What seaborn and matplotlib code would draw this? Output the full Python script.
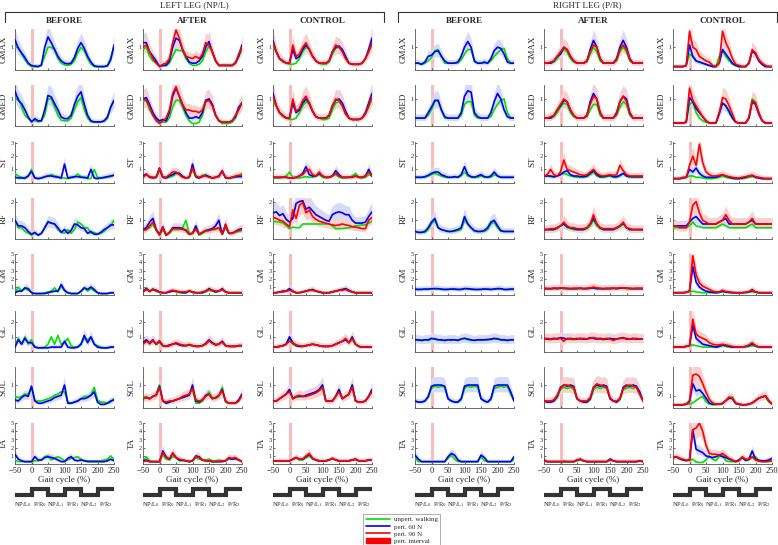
import numpy as np
import pandas as pd
import seaborn as sns
import matplotlib.pyplot as plt
from matplotlib.lines import Line2D
from matplotlib.patches import Patch

# gait cycle sampling (%), one value every 10 %
gait = np.arange(-50, 251, 10)

muscles = ['GMAX', 'GMED', 'ST', 'RF', 'GM', 'GL', 'SOL', 'TA']
col_keys = ['lb', 'la', 'lc', 'rb', 'ra', 'rc']
col_titles = ['BEFORE', 'AFTER', 'CONTROL', 'BEFORE', 'AFTER', 'CONTROL']
leg_titles = ['LEFT LEG (NP/L)', 'RIGHT LEG (P/R)']

ytop = {'GMAX': 1.8, 'GMED': 1.5, 'ST': 3.1, 'RF': 2.2, 'GM': 5, 'GL': 2.8, 'SOL': 1.8, 'TA': 5}
yticks = {'GMAX': [1], 'GMED': [1], 'ST': [1, 2, 3], 'RF': [1, 2], 'GM': [1, 2, 3, 4, 5],
          'GL': [1, 2], 'SOL': [1], 'TA': [1, 2, 3, 4, 5]}

phase_edges = [-50, 0, 50, 100, 150, 200, 250]
phase_levels = [0, 1, 0, 1, 0, 1]
phase_labels = [r'NP/L$_0$', r'P/R$_0$', r'NP/L$_1$', r'P/R$_1$', r'NP/L$_2$', r'P/R$_2$']
pert_interval = [-1, 9]

# ---- LEFT LEG, BEFORE (g = unperturbed, b = 60 N)
lb_gmax_g = [1.0,1.0,0.7,0.45,0.25,0.15,0.15,0.15,0.2,0.6,1.0,1.0,0.9,0.5,0.3,0.22,0.2,0.25,0.4,0.75,1.0,0.85,0.5,0.25,0.15,0.15,0.15,0.15,0.2,0.55,1.0]
lb_gmax_b = [1.33,0.95,0.75,0.55,0.3,0.2,0.17,0.15,0.22,1.0,1.45,1.2,0.9,0.6,0.4,0.3,0.27,0.3,0.55,0.95,1.2,0.95,0.6,0.35,0.18,0.15,0.15,0.15,0.18,0.45,1.1]
lb_gmed_g = [0.95,1.05,0.7,0.4,0.28,0.2,0.2,0.16,0.2,0.4,1.0,1.0,0.7,0.4,0.22,0.2,0.2,0.3,0.6,0.9,1.05,0.6,0.3,0.16,0.16,0.16,0.16,0.18,0.28,0.7,0.95]
lb_gmed_b = [1.29,0.95,0.83,0.6,0.34,0.16,0.28,0.2,0.2,0.6,1.13,1.07,0.83,0.6,0.34,0.28,0.28,0.4,0.8,1.1,1.26,0.8,0.4,0.2,0.16,0.16,0.16,0.2,0.34,0.7,0.95]
lb_st_g = [0.7,0.5,0.4,0.3,0.5,1.0,0.35,0.3,0.35,0.4,0.5,0.6,0.5,0.45,0.35,0.35,0.3,0.35,0.4,0.65,0.45,0.35,0.3,0.3,1.0,0.4,0.35,0.35,0.4,0.45,0.6]
lb_st_b = [0.4,0.35,0.35,0.35,0.5,0.85,0.35,0.3,0.35,0.45,0.5,0.5,0.45,0.4,0.35,1.4,0.35,0.4,0.45,0.45,0.4,0.4,0.35,1.0,0.35,0.3,0.35,0.4,0.45,0.5,0.55]
lb_rf_g = [1.0,0.6,0.6,0.4,0.3,0.2,0.3,0.2,0.3,0.6,0.95,0.85,0.8,0.5,0.35,0.3,0.5,0.3,0.5,0.9,0.8,0.6,0.6,0.3,0.35,0.25,0.3,0.4,0.6,0.7,1.0]
lb_rf_b = [1.0,0.7,0.7,0.6,0.4,0.25,0.35,0.2,0.3,0.6,0.9,0.85,0.8,0.6,0.35,0.5,0.3,0.45,0.8,0.75,0.6,0.55,0.3,0.4,0.25,0.25,0.35,0.5,0.6,0.75,0.75]
lb_gm_g = [0.3,1.0,0.5,0.8,0.6,0.35,0.2,0.2,0.2,0.3,0.4,0.5,0.9,0.4,1.1,0.5,0.3,0.2,0.2,0.2,0.4,0.9,0.5,0.8,0.5,0.3,0.2,0.2,0.2,0.3,0.3]
lb_gm_b = [0.3,0.5,0.5,0.9,0.8,0.3,0.2,0.2,0.2,0.2,0.3,0.4,0.5,0.5,1.3,0.6,0.3,0.2,0.2,0.2,0.5,0.9,0.7,1.0,0.7,0.3,0.2,0.2,0.2,0.3,0.3]
lb_gl_g = [0.4,0.9,0.5,1.0,0.5,0.8,0.3,0.25,0.25,0.3,0.5,1.0,0.5,1.1,0.5,0.6,0.9,0.4,0.3,0.3,0.5,0.9,0.8,1.0,0.5,0.4,0.3,0.25,0.25,0.3,0.3]
lb_gl_b = [0.3,0.8,0.5,0.9,0.6,0.6,0.3,0.25,0.25,0.25,0.25,0.3,0.3,0.3,0.3,0.7,0.3,0.25,0.25,0.3,0.5,1.1,0.6,1.0,0.5,0.3,0.25,0.25,0.25,0.3,0.3]
lb_sol_g = [0.5,0.45,0.5,0.6,0.6,0.9,0.3,0.3,0.3,0.35,0.4,0.45,0.55,0.6,0.7,0.7,0.25,0.2,0.25,0.3,0.4,0.5,0.5,0.55,0.9,0.35,0.25,0.25,0.2,0.25,0.4]
lb_sol_b = [0.35,0.3,0.45,0.55,0.5,0.95,0.3,0.2,0.2,0.25,0.3,0.35,0.45,0.5,0.55,1.0,0.2,0.2,0.25,0.3,0.4,0.4,0.45,0.55,0.7,0.25,0.15,0.15,0.2,0.3,0.35]
lb_ta_g = [0.5,0.3,0.3,0.3,0.3,0.3,0.4,0.4,0.5,0.9,1.0,0.5,0.7,0.9,0.7,0.4,0.5,0.7,0.8,0.9,0.6,0.4,0.4,0.4,0.4,0.4,0.4,0.5,0.6,1.0,0.6]
lb_ta_b = [1.2,0.6,0.4,0.3,0.3,0.3,0.9,0.5,0.5,0.8,0.9,0.8,0.7,0.5,0.3,0.3,0.7,0.9,0.5,0.4,0.5,0.4,0.3,0.3,0.3,0.3,0.3,0.3,0.4,0.6,0.4]

# ---- LEFT LEG, AFTER (r = 90 N)
la_gmax_g = [0.9,1.0,0.6,0.4,0.3,0.2,0.2,0.2,0.3,0.6,0.9,0.85,0.85,0.5,0.3,0.2,0.2,0.25,0.4,0.8,1.05,0.8,0.4,0.2,0.2,0.2,0.2,0.2,0.35,0.6,0.9]
la_gmax_b = [1.2,1.2,0.8,0.6,0.4,0.15,0.2,0.2,0.4,1.0,1.4,1.3,0.9,0.6,0.35,0.3,0.3,0.4,0.6,1.0,1.25,0.8,0.4,0.2,0.2,0.2,0.2,0.2,0.3,0.6,1.1]
la_gmax_r = [1.0,1.1,0.8,0.5,0.3,0.15,0.25,0.3,0.5,1.2,1.75,1.4,0.9,0.6,0.55,0.5,0.6,0.5,0.7,1.2,1.1,0.8,0.4,0.2,0.2,0.2,0.2,0.2,0.3,0.7,1.0]
la_gmed_g = [0.9,0.95,0.6,0.4,0.3,0.15,0.15,0.15,0.3,0.7,0.95,0.95,0.7,0.4,0.2,0.1,0.1,0.15,0.4,0.9,1.0,0.8,0.4,0.2,0.1,0.1,0.1,0.15,0.3,0.6,0.9]
la_gmed_b = [1.0,1.05,0.8,0.5,0.3,0.2,0.25,0.2,0.5,1.1,1.4,1.1,0.8,0.5,0.3,0.3,0.35,0.3,0.5,0.95,1.0,0.8,0.4,0.2,0.15,0.15,0.15,0.2,0.35,0.7,0.85]
la_gmed_r = [1.0,0.95,0.7,0.4,0.2,0.1,0.2,0.3,0.6,1.2,1.45,1.1,0.8,0.6,0.6,0.55,0.55,0.5,0.6,0.9,0.95,0.75,0.4,0.2,0.15,0.15,0.15,0.2,0.4,0.6,0.85]
la_st_g = [0.5,0.6,0.45,0.4,0.4,0.9,0.4,0.35,0.4,0.5,0.65,0.7,0.5,0.35,0.4,1.0,0.4,0.35,0.55,0.6,0.45,0.35,0.4,0.5,0.8,0.4,0.3,0.35,0.4,0.5,0.7]
la_st_b = [0.5,0.65,0.4,0.35,0.4,1.1,0.4,0.35,0.5,0.6,0.75,0.7,0.45,0.35,0.4,1.4,0.45,0.35,0.45,0.55,0.45,0.35,0.4,0.5,0.9,0.35,0.35,0.4,0.45,0.45,0.45]
la_st_r = [0.4,0.6,0.45,0.4,0.4,1.1,0.45,0.4,0.6,0.8,0.8,0.6,0.4,0.35,0.4,1.1,0.5,0.4,0.5,0.5,0.4,0.35,0.4,0.45,0.85,0.4,0.35,0.4,0.5,0.55,0.55]
la_rf_g = [0.45,0.5,0.6,0.8,0.45,0.2,0.5,0.2,0.3,0.5,0.5,0.5,0.6,1.0,0.3,0.3,0.5,0.2,0.3,0.4,0.45,0.5,0.5,0.6,0.25,0.6,0.3,0.3,0.35,0.4,0.45]
la_rf_b = [0.5,0.6,0.9,1.1,0.5,0.25,0.65,0.2,0.35,0.6,0.6,0.6,0.55,0.45,0.25,0.3,0.7,0.25,0.35,0.45,0.5,0.55,0.7,1.0,0.25,0.75,0.3,0.3,0.4,0.5,0.55]
la_rf_r = [0.45,0.5,0.7,0.9,0.5,0.2,0.6,0.2,0.35,0.55,0.55,0.55,0.5,0.5,0.25,0.3,0.55,0.25,0.35,0.45,0.45,0.5,0.55,0.6,0.25,0.8,0.3,0.3,0.4,0.45,0.5]
la_gm_g = [0.4,0.9,0.4,0.8,0.5,0.3,0.3,0.3,0.4,0.6,0.4,0.3,0.3,0.3,0.6,0.3,0.3,0.3,0.3,0.4,0.6,0.5,0.4,0.5,0.7,0.4,0.3,0.3,0.3,0.3,0.3]
la_gm_b = [0.4,0.8,0.5,0.7,0.6,0.4,0.3,0.3,0.4,0.5,0.5,0.4,0.3,0.3,0.5,0.4,0.3,0.3,0.3,0.5,0.8,0.6,0.4,0.5,0.8,0.4,0.3,0.3,0.3,0.3,0.3]
la_gm_r = [0.4,0.7,0.5,0.7,0.5,0.4,0.3,0.3,0.5,0.6,0.5,0.4,0.4,0.4,0.5,0.4,0.3,0.3,0.4,0.5,0.7,0.6,0.5,0.5,0.7,0.4,0.3,0.3,0.3,0.3,0.3]
la_gl_g = [0.5,0.8,0.5,0.7,0.5,0.6,0.4,0.35,0.4,0.5,0.6,0.5,0.4,0.4,0.5,0.4,0.4,0.35,0.4,0.5,0.7,0.6,0.5,0.5,0.7,0.4,0.35,0.35,0.35,0.4,0.4]
la_gl_b = [0.6,0.8,0.6,0.8,0.5,0.7,0.4,0.35,0.45,0.5,0.55,0.45,0.4,0.4,0.45,0.4,0.35,0.35,0.4,0.55,0.8,0.6,0.45,0.5,0.7,0.4,0.35,0.35,0.35,0.4,0.4]
la_gl_r = [0.5,0.7,0.55,0.75,0.5,0.75,0.4,0.35,0.4,0.5,0.6,0.5,0.45,0.4,0.45,0.4,0.35,0.35,0.4,0.5,0.75,0.55,0.45,0.5,0.65,0.4,0.35,0.35,0.35,0.4,0.4]
la_sol_g = [0.45,0.5,0.4,0.5,0.6,1.0,0.3,0.2,0.25,0.3,0.35,0.4,0.45,0.5,0.6,0.8,0.2,0.2,0.3,0.5,0.7,0.45,0.4,0.5,0.9,0.25,0.2,0.2,0.2,0.3,0.55]
la_sol_b = [0.4,0.45,0.4,0.5,0.55,0.95,0.3,0.2,0.25,0.3,0.35,0.4,0.45,0.5,0.55,1.0,0.3,0.25,0.35,0.55,0.6,0.4,0.45,0.55,0.8,0.3,0.2,0.2,0.2,0.35,0.6]
la_sol_r = [0.4,0.45,0.4,0.5,0.55,0.9,0.3,0.25,0.3,0.3,0.35,0.4,0.5,0.55,0.6,0.85,0.35,0.3,0.35,0.5,0.6,0.4,0.45,0.55,0.75,0.3,0.2,0.2,0.2,0.3,0.55]
la_ta_g = [0.3,0.9,0.4,0.3,0.3,0.3,1.1,0.6,0.5,0.9,0.8,0.4,0.4,0.4,0.3,0.4,0.8,0.6,0.5,0.5,0.6,0.4,0.4,0.5,0.4,0.4,0.7,0.6,0.6,0.5,0.3]
la_ta_b = [0.4,0.5,0.3,0.3,0.3,0.3,1.6,0.9,0.6,1.3,0.8,0.5,0.5,0.4,0.3,0.4,1.0,0.9,0.5,0.4,0.4,0.3,0.3,0.3,0.3,0.4,0.7,0.6,0.7,0.5,0.3]
la_ta_r = [0.3,0.4,0.3,0.3,0.3,0.3,1.4,0.8,0.6,1.4,0.8,0.6,0.5,0.4,0.3,0.4,0.9,0.8,0.5,0.4,0.4,0.3,0.3,0.3,0.4,0.4,0.8,0.7,0.8,0.5,0.3]

# ---- LEFT LEG, CONTROL
lc_gmax_g = [1.0,0.8,0.5,0.35,0.3,0.25,0.25,0.3,0.5,0.8,1.0,0.9,0.6,0.4,0.3,0.25,0.25,0.35,0.7,0.95,1.0,0.85,0.5,0.3,0.25,0.25,0.25,0.3,0.5,0.8,1.1]
lc_gmax_b = [1.3,0.8,0.5,0.4,0.3,0.3,0.9,0.5,0.6,0.9,1.1,0.9,0.6,0.4,0.3,0.3,0.3,0.4,0.8,1.0,1.05,0.9,0.6,0.3,0.25,0.25,0.25,0.3,0.5,0.9,1.4]
lc_gmax_r = [1.2,0.8,0.5,0.4,0.3,0.3,1.1,0.6,0.7,1.0,1.2,0.9,0.6,0.4,0.3,0.3,0.3,0.4,0.8,1.1,1.0,0.8,0.5,0.3,0.25,0.25,0.25,0.3,0.5,0.8,1.2]
lc_gmed_g = [0.9,0.75,0.5,0.35,0.3,0.25,0.25,0.3,0.5,0.75,0.9,0.8,0.55,0.35,0.3,0.25,0.25,0.3,0.6,0.85,0.9,0.75,0.45,0.3,0.25,0.25,0.25,0.3,0.45,0.7,1.0]
lc_gmed_b = [1.2,0.75,0.5,0.4,0.3,0.3,0.85,0.5,0.6,0.85,1.0,0.85,0.55,0.35,0.3,0.3,0.3,0.4,0.75,0.95,1.0,0.85,0.55,0.3,0.25,0.25,0.25,0.3,0.5,0.85,1.2]
lc_gmed_r = [1.1,0.75,0.5,0.4,0.3,0.3,1.0,0.55,0.65,0.95,1.1,0.85,0.55,0.35,0.3,0.3,0.3,0.4,0.75,1.0,0.95,0.75,0.45,0.3,0.25,0.25,0.25,0.3,0.45,0.75,1.1]
lc_st_g = [0.35,0.35,0.35,0.4,0.5,0.8,0.4,0.35,0.35,0.4,0.45,0.4,0.4,0.5,0.6,0.4,0.35,0.4,0.5,0.6,0.4,0.35,0.35,0.4,0.5,0.7,0.4,0.35,0.4,0.6,0.5]
lc_st_b = [0.4,0.4,0.4,0.4,0.4,0.35,0.35,0.4,0.5,0.7,1.2,0.6,0.5,0.5,0.7,0.5,0.4,0.4,0.5,0.9,0.6,0.4,0.4,0.4,0.4,0.5,0.4,0.4,0.5,1.0,0.5]
lc_st_r = [0.4,0.4,0.4,0.4,0.4,0.35,0.35,0.4,0.5,0.6,0.9,1.0,0.6,0.5,0.8,0.5,0.4,0.4,0.5,0.7,0.5,0.4,0.4,0.4,0.4,0.5,0.4,0.4,0.5,0.8,0.5]
lc_rf_g = [0.95,0.92,0.9,0.85,0.72,0.55,0.63,0.6,0.6,0.8,0.8,0.8,0.8,0.8,0.8,0.8,0.8,0.8,0.7,0.55,0.55,0.55,0.58,0.6,0.65,0.7,0.72,0.75,0.75,0.85,0.95]
lc_rf_b = [1.4,1.45,1.25,1.35,1.05,0.9,1.1,1.9,2.0,2.05,1.6,1.7,1.5,1.3,1.2,1.1,1.0,0.95,1.3,1.4,1.45,1.4,1.3,1.3,1.0,0.85,0.85,0.85,0.9,1.2,1.45]
lc_rf_r = [1.15,1.1,1.0,0.95,0.8,0.65,1.55,1.1,1.8,1.95,1.4,1.55,1.2,1.05,0.95,0.9,0.85,0.8,0.75,0.72,0.75,0.8,0.75,0.72,0.65,0.63,0.6,0.55,0.55,1.0,1.15]
lc_gm_g = [0.3,0.3,0.4,0.4,0.5,0.7,0.4,0.3,0.3,0.4,0.5,0.6,0.6,0.5,0.4,0.3,0.3,0.3,0.4,0.5,0.6,0.7,0.8,0.5,0.4,0.3,0.3,0.3,0.3,0.3,0.3]
lc_gm_b = [0.3,0.3,0.4,0.5,0.5,0.8,0.5,0.3,0.3,0.4,0.5,0.6,0.7,0.5,0.4,0.3,0.3,0.3,0.4,0.5,0.6,0.7,0.8,0.6,0.4,0.3,0.3,0.3,0.3,0.3,0.3]
lc_gm_r = [0.3,0.3,0.4,0.4,0.5,0.6,0.5,0.3,0.3,0.4,0.5,0.6,0.6,0.5,0.4,0.3,0.3,0.3,0.4,0.5,0.6,0.6,0.7,0.5,0.4,0.3,0.3,0.3,0.3,0.3,0.3]
lc_gl_g = [0.3,0.3,0.35,0.4,0.5,0.8,0.5,0.4,0.35,0.35,0.4,0.45,0.5,0.45,0.4,0.35,0.35,0.35,0.4,0.5,0.6,0.7,0.8,0.6,0.8,0.5,0.35,0.3,0.3,0.3,0.3]
lc_gl_b = [0.3,0.3,0.35,0.4,0.5,1.0,0.6,0.4,0.35,0.35,0.4,0.45,0.5,0.45,0.4,0.35,0.35,0.35,0.4,0.5,0.6,0.7,0.8,0.6,1.0,0.5,0.35,0.3,0.3,0.3,0.3]
lc_gl_r = [0.3,0.3,0.35,0.4,0.5,0.7,0.6,0.45,0.4,0.35,0.4,0.45,0.5,0.45,0.4,0.35,0.35,0.35,0.4,0.5,0.6,0.7,0.9,0.6,0.9,0.5,0.35,0.3,0.3,0.3,0.3]
lc_sol_g = [0.3,0.3,0.4,0.5,0.6,0.8,0.4,0.45,0.5,0.5,0.5,0.55,0.6,0.7,0.8,1.0,0.3,0.3,0.3,0.5,0.8,0.4,0.5,0.6,1.0,0.3,0.25,0.25,0.3,0.5,0.8]
lc_sol_b = [0.3,0.3,0.4,0.5,0.6,0.8,0.4,0.5,0.5,0.5,0.55,0.6,0.65,0.7,0.8,1.0,0.3,0.3,0.3,0.5,0.8,0.4,0.5,0.6,1.0,0.3,0.25,0.25,0.3,0.5,0.8]
lc_sol_r = [0.3,0.3,0.4,0.5,0.6,0.7,0.4,0.5,0.55,0.5,0.5,0.55,0.6,0.65,0.75,0.9,0.3,0.3,0.3,0.5,0.7,0.4,0.5,0.6,0.9,0.3,0.25,0.25,0.3,0.5,0.7]
lc_ta_g = [0.4,0.4,0.4,0.4,0.4,0.4,0.6,0.8,0.5,0.5,0.8,1.0,0.6,0.5,0.4,0.4,0.4,0.5,0.7,0.5,0.4,0.4,0.4,0.4,0.5,0.6,0.4,0.4,0.4,0.5,0.5]
lc_ta_b = [0.4,0.4,0.4,0.4,0.4,0.4,0.6,0.8,0.6,0.6,0.9,1.2,0.7,0.5,0.4,0.4,0.4,0.5,0.7,0.5,0.4,0.4,0.4,0.4,0.5,0.6,0.4,0.4,0.4,0.5,0.5]
lc_ta_r = [0.4,0.4,0.4,0.4,0.4,0.4,0.6,0.8,0.6,0.6,1.0,1.3,0.7,0.5,0.4,0.4,0.4,0.5,0.7,0.5,0.4,0.4,0.4,0.4,0.5,0.6,0.4,0.4,0.4,0.5,0.5]

# ---- RIGHT LEG, BEFORE
rb_gmax_g = [0.3,0.3,0.25,0.3,0.4,0.55,0.85,0.9,0.6,0.3,0.3,0.3,0.3,0.3,0.45,0.7,0.9,0.9,0.35,0.3,0.3,0.3,0.3,0.4,0.6,0.75,0.9,0.95,0.5,0.3,0.3]
rb_gmax_b = [0.3,0.3,0.25,0.35,0.6,0.65,0.8,0.85,0.6,0.4,0.3,0.3,0.3,0.35,0.6,1.0,1.25,1.0,0.4,0.3,0.3,0.35,0.3,0.5,0.85,1.0,0.95,0.7,0.35,0.3,0.3]
rb_gmed_g = [0.3,0.3,0.3,0.3,0.4,0.6,0.9,0.95,0.6,0.3,0.3,0.3,0.3,0.3,0.4,0.8,0.9,0.9,0.4,0.3,0.3,0.3,0.3,0.35,0.6,0.8,0.95,1.0,0.5,0.3,0.3]
rb_gmed_b = [0.3,0.3,0.3,0.3,0.5,0.7,0.95,0.95,0.6,0.35,0.3,0.3,0.3,0.3,0.5,1.1,1.3,1.25,0.5,0.35,0.3,0.3,0.3,0.5,0.9,1.2,1.0,0.6,0.35,0.3,0.3]
rb_st_g = [0.4,0.4,0.4,0.4,0.5,0.6,0.7,0.6,0.5,0.4,0.4,0.4,0.4,0.4,0.5,0.8,0.5,0.4,0.4,0.4,0.5,0.4,0.4,0.4,0.6,0.5,0.4,0.4,0.4,0.4,0.4]
rb_st_b = [0.4,0.4,0.4,0.45,0.55,0.7,0.8,0.8,0.6,0.5,0.4,0.4,0.45,0.4,0.6,1.2,0.6,0.45,0.4,0.5,0.6,0.45,0.4,0.5,0.8,0.5,0.4,0.4,0.4,0.4,0.4]
rb_rf_g = [0.4,0.35,0.35,0.35,0.5,0.8,1.0,0.6,0.5,0.45,0.4,0.4,0.4,0.45,0.5,1.0,0.8,0.6,0.4,0.4,0.4,0.4,0.5,0.8,0.9,0.6,0.4,0.4,0.4,0.4,0.4]
rb_rf_b = [0.4,0.35,0.35,0.4,0.6,0.9,1.1,0.6,0.5,0.45,0.4,0.4,0.45,0.5,0.6,1.2,0.8,0.6,0.45,0.4,0.4,0.45,0.6,0.9,1.0,0.7,0.45,0.4,0.4,0.4,0.4]
rb_gm_g = [0.7,0.7,0.75,0.7,0.7,0.75,0.8,0.75,0.7,0.7,0.75,0.75,0.7,0.7,0.75,0.8,0.75,0.7,0.7,0.7,0.75,0.75,0.7,0.7,0.75,0.8,0.75,0.7,0.7,0.7,0.7]
rb_gm_b = [0.75,0.7,0.7,0.75,0.75,0.8,0.8,0.8,0.75,0.7,0.7,0.75,0.75,0.7,0.7,0.8,0.8,0.75,0.7,0.7,0.7,0.75,0.75,0.7,0.75,0.8,0.8,0.7,0.7,0.75,0.75]
rb_gl_g = [0.8,0.75,0.8,0.8,0.75,0.85,0.9,0.8,0.75,0.8,0.8,0.75,0.8,0.8,0.85,0.9,0.8,0.75,0.8,0.8,0.75,0.8,0.85,0.8,0.85,0.9,0.8,0.75,0.8,0.8,0.8]
rb_gl_b = [0.8,0.8,0.75,0.8,0.8,0.9,0.85,0.8,0.8,0.75,0.8,0.8,0.8,0.75,0.85,0.9,0.85,0.8,0.75,0.8,0.8,0.8,0.8,0.85,0.9,0.85,0.8,0.8,0.75,0.8,0.8]
rb_sol_g = [0.3,0.25,0.25,0.3,0.45,0.85,0.95,0.9,0.95,0.9,0.4,0.3,0.25,0.25,0.35,0.85,0.95,0.9,0.95,0.9,0.4,0.3,0.25,0.35,0.85,0.9,0.95,0.9,0.95,0.6,0.3]
rb_sol_b = [0.3,0.25,0.25,0.3,0.5,0.95,1.0,1.0,1.0,0.95,0.4,0.3,0.25,0.25,0.4,0.95,1.0,1.0,1.0,1.0,0.4,0.3,0.25,0.4,0.95,1.0,1.0,1.0,1.0,0.7,0.3]
rb_ta_g = [0.8,0.3,0.3,0.3,0.3,0.3,0.3,0.3,0.3,0.3,0.7,1.1,0.6,0.3,0.3,0.3,0.3,0.3,0.3,0.3,0.9,0.4,0.3,0.3,0.3,0.3,0.3,0.3,0.3,0.3,0.5]
rb_ta_b = [1.1,0.6,0.3,0.3,0.3,0.3,0.3,0.3,0.3,0.3,0.9,1.3,1.1,0.5,0.3,0.3,0.3,0.3,0.3,0.3,1.1,0.8,0.3,0.3,0.3,0.3,0.3,0.3,0.3,0.3,0.9]

# ---- RIGHT LEG, AFTER
ra_gmax_g = [0.3,0.3,0.3,0.35,0.5,0.7,0.9,0.8,0.5,0.35,0.3,0.3,0.3,0.35,0.7,1.0,0.8,0.4,0.3,0.3,0.3,0.3,0.4,0.8,1.0,0.8,0.4,0.3,0.3,0.3,0.3]
ra_gmax_b = [0.3,0.3,0.3,0.4,0.6,0.7,1.0,0.9,0.6,0.4,0.3,0.3,0.3,0.4,0.9,1.3,1.0,0.5,0.3,0.3,0.3,0.3,0.5,1.0,1.3,1.0,0.5,0.3,0.3,0.3,0.3]
ra_gmax_r = [0.3,0.3,0.35,0.4,0.6,0.8,1.0,0.9,0.6,0.4,0.3,0.3,0.3,0.4,0.8,1.1,1.0,0.5,0.3,0.3,0.3,0.3,0.45,0.9,1.1,0.9,0.45,0.3,0.3,0.3,0.3]
ra_gmed_g = [0.3,0.3,0.3,0.35,0.5,0.7,0.85,0.8,0.5,0.35,0.3,0.3,0.3,0.35,0.6,0.8,0.8,0.4,0.3,0.3,0.3,0.3,0.4,0.7,0.9,0.8,0.4,0.3,0.3,0.3,0.3]
ra_gmed_b = [0.3,0.3,0.3,0.4,0.6,0.75,0.95,0.9,0.6,0.4,0.3,0.3,0.3,0.4,0.9,1.2,1.0,0.5,0.3,0.3,0.3,0.3,0.5,0.9,1.1,1.0,0.5,0.3,0.3,0.3,0.3]
ra_gmed_r = [0.3,0.3,0.35,0.4,0.6,0.8,1.0,0.9,0.6,0.4,0.3,0.3,0.3,0.4,0.8,1.1,1.0,0.5,0.3,0.3,0.3,0.3,0.45,0.9,1.1,0.9,0.45,0.3,0.3,0.3,0.3]
ra_st_g = [0.45,0.5,0.45,0.4,0.5,0.6,0.7,0.6,0.5,0.45,0.4,0.4,0.4,0.45,0.6,0.8,0.5,0.4,0.4,0.45,0.5,0.4,0.4,0.5,0.7,0.5,0.4,0.4,0.4,0.4,0.4]
ra_st_b = [0.5,0.5,0.5,0.45,0.5,0.6,0.8,0.9,0.6,0.5,0.5,0.45,0.45,0.5,0.7,0.9,0.6,0.45,0.45,0.5,0.55,0.45,0.45,0.55,0.7,0.5,0.45,0.45,0.45,0.45,0.45]
ra_st_r = [0.5,0.6,1.0,0.6,0.5,0.8,1.7,1.0,0.9,0.8,0.7,0.6,0.55,0.6,0.8,1.0,0.7,0.55,0.5,0.55,0.6,0.55,0.6,1.3,0.9,0.6,0.5,0.5,0.5,0.5,0.5]
ra_rf_g = [0.5,0.5,0.5,0.5,0.55,0.7,0.8,0.6,0.55,0.5,0.5,0.5,0.5,0.55,0.7,1.0,0.7,0.55,0.5,0.5,0.5,0.5,0.55,0.65,0.8,0.6,0.5,0.5,0.5,0.5,0.5]
ra_rf_b = [0.5,0.5,0.5,0.5,0.6,0.7,0.8,0.65,0.6,0.55,0.5,0.5,0.5,0.6,0.8,1.1,0.8,0.6,0.5,0.5,0.5,0.5,0.6,0.7,0.85,0.6,0.5,0.5,0.5,0.5,0.5]
ra_rf_r = [0.5,0.5,0.55,0.55,0.6,0.7,0.9,0.7,0.6,0.6,0.55,0.55,0.55,0.6,0.8,1.3,0.8,0.6,0.55,0.55,0.55,0.55,0.6,0.7,0.9,0.6,0.55,0.5,0.5,0.5,0.5]
ra_gm_g = [0.8,0.8,0.75,0.8,0.8,0.85,0.8,0.8,0.8,0.75,0.8,0.8,0.8,0.8,0.85,0.85,0.8,0.8,0.75,0.8,0.8,0.8,0.8,0.85,0.85,0.8,0.8,0.8,0.8,0.8,0.8]
ra_gm_b = [0.8,0.8,0.8,0.85,0.8,0.85,0.85,0.8,0.8,0.8,0.8,0.85,0.8,0.8,0.85,0.9,0.8,0.8,0.8,0.8,0.8,0.85,0.8,0.85,0.9,0.85,0.8,0.8,0.8,0.8,0.8]
ra_gm_r = [0.85,0.8,0.8,0.85,0.85,0.9,0.85,0.85,0.8,0.85,0.85,0.85,0.8,0.85,0.9,1.0,0.9,0.85,0.8,0.85,0.85,0.85,0.85,0.9,0.9,0.85,0.85,0.8,0.85,0.85,0.85]
ra_gl_g = [0.85,0.85,0.8,0.85,0.85,0.9,0.9,0.85,0.85,0.8,0.85,0.85,0.85,0.85,0.9,0.9,0.85,0.85,0.8,0.85,0.85,0.85,0.85,0.9,0.9,0.85,0.85,0.85,0.85,0.85,0.85]
ra_gl_b = [0.9,0.85,0.85,0.9,0.85,0.95,0.9,0.85,0.9,0.85,0.85,0.9,0.85,0.85,0.95,0.9,0.85,0.9,0.85,0.85,0.9,0.85,0.85,0.9,0.95,0.85,0.85,0.9,0.85,0.85,0.85]
ra_gl_r = [0.85,0.9,0.85,0.85,0.9,0.9,0.7,0.9,0.85,0.85,0.9,0.85,0.9,0.85,0.9,0.95,0.9,0.85,0.85,0.9,0.85,0.75,0.85,0.9,0.9,0.9,0.85,0.85,0.9,0.85,0.85]
ra_sol_g = [0.3,0.25,0.25,0.3,0.45,0.8,0.9,0.85,0.9,0.8,0.4,0.3,0.25,0.25,0.35,0.8,0.9,0.85,0.9,0.85,0.4,0.3,0.25,0.35,0.8,0.85,0.9,0.85,0.9,0.6,0.3]
ra_sol_b = [0.3,0.25,0.25,0.3,0.5,0.9,1.0,0.95,1.0,0.95,0.4,0.3,0.25,0.25,0.4,0.9,1.0,0.95,1.0,0.95,0.4,0.3,0.25,0.4,0.9,1.0,0.95,1.0,0.95,0.7,0.3]
ra_sol_r = [0.3,0.3,0.3,0.35,0.55,0.85,1.0,1.0,0.95,0.9,0.4,0.3,0.3,0.3,0.45,0.9,1.05,1.0,0.95,0.9,0.45,0.3,0.3,0.4,0.85,0.95,1.0,0.95,0.9,0.6,0.3]
ra_ta_g = [0.4,0.3,0.3,0.3,0.3,0.3,0.3,0.3,0.3,0.3,0.4,0.5,0.4,0.3,0.3,0.3,0.3,0.3,0.3,0.3,0.6,0.4,0.3,0.3,0.3,0.3,0.3,0.3,0.3,0.4,0.3]
ra_ta_b = [0.5,0.3,0.3,0.3,0.3,0.3,0.3,0.3,0.3,0.3,0.5,0.6,0.4,0.3,0.3,0.3,0.3,0.3,0.3,0.3,0.6,0.4,0.3,0.3,0.3,0.3,0.3,0.3,0.3,0.4,0.3]
ra_ta_r = [0.4,0.3,0.3,0.3,0.3,0.3,0.35,0.3,0.3,0.3,0.5,0.6,0.4,0.3,0.3,0.3,0.3,0.3,0.3,0.3,0.5,0.4,0.3,0.3,0.3,0.3,0.3,0.3,0.3,0.4,0.3]

# ---- RIGHT LEG, CONTROL
rc_gmax_g = [0.15,0.15,0.15,0.15,0.2,0.7,0.6,0.4,0.35,0.3,0.25,0.2,0.15,0.15,0.6,0.85,0.6,0.4,0.25,0.2,0.15,0.15,0.15,0.3,0.85,0.75,0.45,0.25,0.15,0.15,0.15]
rc_gmax_b = [0.15,0.15,0.15,0.15,0.2,1.1,0.6,0.4,0.35,0.3,0.25,0.2,0.15,0.15,0.3,0.9,0.7,0.5,0.3,0.2,0.15,0.15,0.15,0.3,0.85,0.7,0.4,0.25,0.15,0.15,0.15]
rc_gmax_r = [0.15,0.15,0.15,0.15,0.2,1.7,1.0,0.9,0.6,0.5,0.4,0.35,0.2,0.15,0.3,1.7,1.2,0.9,0.5,0.25,0.2,0.15,0.15,0.3,0.9,0.75,0.45,0.3,0.2,0.15,0.15]
rc_gmed_g = [0.12,0.12,0.12,0.12,0.15,0.8,0.9,0.5,0.3,0.2,0.15,0.12,0.12,0.12,0.5,0.85,0.75,0.5,0.3,0.15,0.12,0.12,0.12,0.35,1.0,0.9,0.5,0.2,0.12,0.12,0.12]
rc_gmed_b = [0.12,0.12,0.12,0.12,0.15,1.05,0.9,0.65,0.5,0.35,0.2,0.12,0.12,0.12,0.45,0.85,0.75,0.55,0.3,0.15,0.12,0.12,0.12,0.3,0.9,0.8,0.45,0.2,0.12,0.12,0.12]
rc_gmed_r = [0.12,0.12,0.12,0.12,0.15,1.4,0.95,0.75,0.55,0.35,0.2,0.12,0.12,0.12,0.5,1.05,1.0,0.75,0.45,0.15,0.12,0.12,0.12,0.3,0.95,0.85,0.5,0.2,0.12,0.12,0.12]
rc_st_g = [0.3,0.3,0.3,0.35,0.4,0.5,0.5,0.4,0.4,0.35,0.3,0.3,0.3,0.35,0.4,0.5,0.4,0.35,0.3,0.3,0.3,0.3,0.35,0.4,0.45,0.4,0.35,0.3,0.3,0.3,0.3]
rc_st_b = [0.3,0.3,0.3,0.35,0.4,1.0,0.8,1.1,0.7,0.5,0.4,0.4,0.4,0.4,0.5,0.6,0.5,0.4,0.35,0.3,0.3,0.35,0.4,0.5,0.55,0.4,0.35,0.3,0.3,0.3,0.3]
rc_st_r = [0.3,0.3,0.3,0.4,0.4,1.3,2.0,1.3,2.9,1.5,0.8,0.6,0.5,0.5,0.55,0.6,0.5,0.45,0.4,0.35,0.35,0.4,0.45,0.5,0.55,0.45,0.4,0.35,0.3,0.3,0.3]
rc_rf_g = [0.6,0.6,0.6,0.6,0.6,0.7,0.9,0.7,0.65,0.6,0.6,0.6,0.6,0.6,0.7,0.8,0.7,0.6,0.6,0.6,0.6,0.6,0.6,0.7,0.8,0.6,0.6,0.6,0.6,0.6,0.6]
rc_rf_b = [0.7,0.7,0.7,0.7,0.7,0.9,1.1,1.2,1.0,0.8,0.8,0.8,0.8,0.8,0.9,1.0,1.1,0.8,0.8,0.8,0.8,0.8,0.8,0.9,1.0,0.8,0.8,0.8,0.8,0.8,0.8]
rc_rf_r = [0.7,0.7,0.6,0.6,0.6,0.9,1.8,2.0,1.4,1.0,0.9,0.8,0.8,0.8,0.9,1.0,1.3,1.0,0.8,0.8,0.8,0.8,0.8,0.9,1.1,0.8,0.8,0.8,0.8,0.8,0.8]
rc_gm_g = [0.3,0.3,0.3,0.3,0.35,0.4,0.5,0.4,0.35,0.3,0.3,0.3,0.3,0.3,0.35,0.4,0.35,0.3,0.3,0.3,0.3,0.3,0.3,0.35,0.4,0.35,0.3,0.3,0.3,0.3,0.3]
rc_gm_b = [0.3,0.3,0.3,0.3,0.35,0.5,3.5,1.6,1.0,0.7,0.5,0.4,0.35,0.3,0.35,0.5,0.4,0.35,0.3,0.3,0.3,0.3,0.35,0.4,0.6,0.4,0.3,0.3,0.3,0.3,0.3]
rc_gm_r = [0.3,0.3,0.3,0.3,0.35,0.5,4.8,2.5,1.5,1.1,0.9,0.7,0.5,0.4,0.4,0.6,0.45,0.4,0.35,0.3,0.3,0.3,0.35,0.45,0.7,0.4,0.3,0.3,0.3,0.3,0.3]
rc_gl_g = [0.3,0.3,0.3,0.3,0.35,0.4,0.45,0.4,0.35,0.3,0.3,0.3,0.3,0.3,0.35,0.4,0.35,0.3,0.3,0.3,0.3,0.3,0.3,0.35,0.4,0.35,0.3,0.3,0.3,0.3,0.3]
rc_gl_b = [0.3,0.3,0.3,0.3,0.35,0.4,1.8,0.9,0.7,0.5,0.45,0.4,0.35,0.3,0.35,0.45,0.4,0.35,0.3,0.3,0.3,0.3,0.35,0.4,0.5,0.4,0.3,0.3,0.3,0.3,0.3]
rc_gl_r = [0.3,0.3,0.3,0.3,0.35,0.4,2.2,1.2,1.0,0.9,0.8,0.6,0.5,0.45,0.45,0.5,0.45,0.4,0.35,0.3,0.3,0.3,0.35,0.45,0.6,0.4,0.3,0.3,0.3,0.3,0.3]
rc_sol_g = [0.25,0.25,0.25,0.25,0.3,0.3,0.4,0.6,0.8,0.95,0.5,0.3,0.25,0.25,0.3,0.4,0.6,0.8,0.9,0.4,0.25,0.25,0.25,0.3,0.4,0.6,0.8,0.9,0.95,0.5,0.3]
rc_sol_b = [0.25,0.25,0.25,0.25,0.3,0.5,2.0,1.4,1.5,1.2,0.8,0.4,0.3,0.3,0.3,0.35,0.6,0.8,0.75,0.35,0.3,0.25,0.25,0.3,0.4,0.6,0.8,0.9,1.0,0.6,0.3]
rc_sol_r = [0.25,0.25,0.25,0.25,0.3,0.6,2.7,2.8,2.6,2.0,1.3,0.7,0.4,0.3,0.3,0.35,0.6,0.9,0.8,0.4,0.3,0.25,0.25,0.3,0.4,0.6,0.8,0.9,1.0,0.6,0.3]
rc_ta_g = [0.8,0.9,0.6,0.5,0.4,0.45,0.6,0.25,0.2,0.2,0.5,1.0,0.6,0.4,0.9,1.1,0.4,0.3,0.3,0.3,0.5,0.8,0.45,0.5,0.8,0.9,0.45,0.3,0.3,0.3,0.4]
rc_ta_b = [0.8,0.9,0.7,0.5,0.45,0.5,4.2,1.8,1.6,1.4,1.0,0.9,0.8,0.9,1.1,0.9,0.8,0.6,0.45,0.3,0.5,0.8,0.45,0.6,1.6,0.6,0.45,0.4,0.4,0.5,0.7]
rc_ta_r = [0.8,0.9,0.7,0.6,0.45,0.5,4.2,4.4,5.0,4.0,2.3,1.3,1.2,1.2,1.1,1.3,1.0,0.7,0.5,0.3,0.4,0.9,0.6,0.6,0.9,0.5,0.35,0.3,0.3,0.35,0.4]

W, H = 778, 545
col_left = [15, 143, 273, 415, 544, 673]
ax_w = 99
row_top = [29 + 56.3 * i for i in range(8)]
ax_h = 41

cond_style = [('g', '#00e000', None), ('b', '#0000f0', '#d8d8f8'), ('r', '#ff0000', '#f9d0d0')]


def series(col, muscle, cond):
    return globals().get(f'{col}_{muscle.lower()}_{cond}')


def px_axes(fig, left, top, w, h):
    return fig.add_axes([left / W, 1 - (top + h) / H, w / W, h / H])


sns.set_style('ticks')
plt.rcParams['font.family'] = ['Liberation Serif', 'DejaVu Serif']
plt.rcParams['mathtext.fontset'] = 'stix'

fig = plt.figure(figsize=(W / 100, H / 100), dpi=100)

for ci, col in enumerate(col_keys):
    for ri, m in enumerate(muscles):
        ax = px_axes(fig, col_left[ci], row_top[ri], ax_w, ax_h)
        top = ytop[m]
        if col == 'rc' and m == 'SOL':
            top = 3.4
        ax.axvspan(pert_interval[0], pert_interval[1], color='#f7bcbc', lw=0, zorder=0)
        # variability bands first, then mean curves
        for cond, c, band in cond_style:
            vals = series(col, m, cond)
            if vals is None or band is None:
                continue
            v = np.array(vals)
            ax.fill_between(gait, v * 0.7, v * 1.3 + 0.04 * top, color=band, lw=0, zorder=1)
        for cond, c, band in cond_style:
            vals = series(col, m, cond)
            if vals is None:
                continue
            df = pd.DataFrame({'gait': gait, 'emg': vals})
            sns.lineplot(data=df, x='gait', y='emg', color=c, lw=1.2, ax=ax, zorder=3)
        ax.set_xlim(-50, 250)
        ax.set_ylim(0, top)
        ax.set_xticks([-50, 0, 50, 100, 150, 200, 250])
        ax.set_yticks(yticks[m])
        ax.set_ylabel(m, fontsize=6.5, labelpad=2)
        ax.set_xlabel('')
        ax.tick_params(direction='in', length=1.5, width=0.5, labelsize=4.5, pad=1)
        for s in ['top', 'right']:
            ax.spines[s].set_visible(False)
        for s in ['left', 'bottom']:
            ax.spines[s].set_linewidth(0.6)
            ax.spines[s].set_color('#555555')
        if ri == len(muscles) - 1:
            ax.tick_params(axis='x', labelsize=6, pad=2)
            ax.set_xlabel('Gait cycle (%)', fontsize=6.5, labelpad=1)
        else:
            ax.tick_params(axis='x', labelbottom=False)
        if ri == 0:
            ax.set_title(col_titles[ci], fontsize=6.5, fontweight='bold', pad=4)

    # gait phase diagram under each column
    sax = px_axes(fig, col_left[ci], 485, ax_w, 14)
    sax.step(phase_edges, phase_levels + [phase_levels[-1]], where='post',
             color='#333333', lw=3.0, solid_joinstyle='miter')
    sax.set_xlim(-50, 250)
    sax.set_ylim(-0.6, 1.6)
    sax.axis('off')
    for i, lab in enumerate(phase_labels):
        mid = (phase_edges[i] + phase_edges[i + 1]) / 2
        fig.text((col_left[ci] + (mid + 50) / 300 * ax_w) / W, 1 - 505 / H, lab,
                 ha='center', va='center', fontsize=4.6)

# leg headers with brackets
for x0, x1, t in [(5, 384, leg_titles[0]), (398, 777, leg_titles[1])]:
    fig.text((x0 + x1) / 2 / W, 1 - 5 / H, t, ha='center', va='center', fontsize=6.5)
    fig.add_artist(Line2D([x0 / W, x1 / W], [1 - 12 / H] * 2, color='#333333', lw=0.8))
    for xx in (x0, x1):
        fig.add_artist(Line2D([xx / W] * 2, [1 - 12 / H, 1 - 22 / H], color='#333333', lw=0.8))

handles = [Line2D([], [], color='#00e000', lw=1.2), Line2D([], [], color='#0000f0', lw=1.2),
           Line2D([], [], color='#ff0000', lw=1.2), Patch(color='#ff0000')]
leg = fig.legend(handles, ['unpert. walking', 'pert. 60 N', 'pert. 90 N', 'pert. interval'],
                 loc='upper left', bbox_to_anchor=(360 / W, 1 - 511 / H), fontsize=5,
                 frameon=True, fancybox=False, edgecolor='#888888', handlelength=3.5,
                 borderpad=0.3, labelspacing=0.2, handletextpad=0.6)
leg.get_frame().set_linewidth(0.6)

fig.savefig('out.png', dpi=100)
